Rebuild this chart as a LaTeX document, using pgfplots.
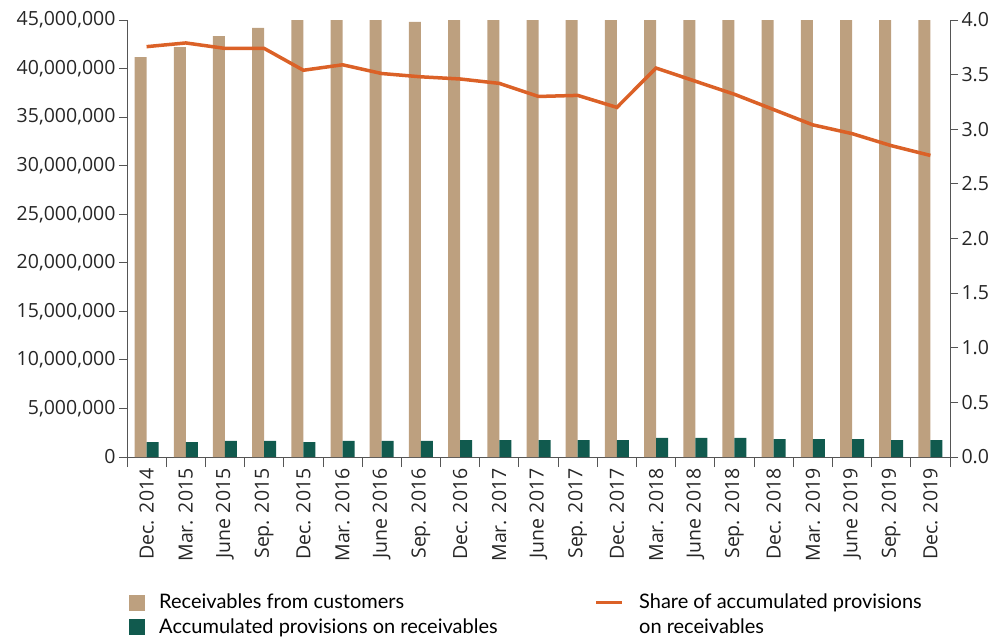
\documentclass[border=0pt]{standalone}
\usepackage{fontspec}
\setmainfont{Open Sans}
\newfontfamily\lato{Lato}
\usepackage{pgfplots}
\pgfplotsset{compat=1.18}
\definecolor{tanc}{HTML}{BDA07F}
\definecolor{greenc}{HTML}{115A4E}
\definecolor{orangec}{HTML}{DB6127}
\definecolor{axc}{HTML}{555555}
\begin{document}
\begin{tikzpicture}
\useasboundingbox (-127pt,-180pt) rectangle (871pt,457pt);
\pgfplotsset{
  common/.style={
    at={(0pt,0pt)}, anchor=south west, scale only axis,
    width=823pt, height=437pt, xmin=-0.5, xmax=20.5,
    tick align=outside, major tick length=8pt, minor tick length=10pt,
    axis line style={-, draw=axc, line width=0.9pt},
    every tick/.style={draw=axc, line width=0.9pt},
    tick label style={font=\fontsize{19.5}{22}\selectfont, text=black!85},
    /pgf/number format/assume math mode=true,
  }
}
\begin{axis}[common,
  axis x line*=bottom, axis y line*=left,
  ymin=0, ymax=45000000,
  ybar=0pt, bar width=12pt,
  xtick={0,...,20},
  xticklabels={Dec. 2014,Mar. 2015,June 2015,Sep. 2015,Dec. 2015,Mar. 2016,June 2016,Sep. 2016,Dec. 2016,Mar. 2017,June 2017,Sep. 2017,Dec. 2017,Mar. 2018,June 2018,Sep. 2018,Dec. 2018,Mar. 2019,June 2019,Sep. 2019,Dec. 2019},
  major x tick style={draw=none},
  minor xtick={-0.5,0.5,...,20.5},
  x tick label style={rotate=90, anchor=east, yshift=0pt},
  ytick={0,5000000,...,45000000},
  scaled y ticks=false,
  yticklabel style={/pgf/number format/.cd, fixed, 1000 sep={,}},
]
\addplot[fill=tanc, draw=none] coordinates {
(0,41190000) (1,42200000) (2,43350000) (3,44180000) (4,46000000)
(5,46000000) (6,46000000) (7,44800000) (8,46000000) (9,46000000)
(10,46000000) (11,46000000) (12,46000000) (13,46000000) (14,46000000)
(15,46000000) (16,46000000) (17,46000000) (18,46000000) (19,46000000) (20,46000000)};
\addplot[fill=greenc, draw=none] coordinates {
(0,1540000) (1,1540000) (2,1650000) (3,1650000) (4,1540000)
(5,1650000) (6,1650000) (7,1650000) (8,1750000) (9,1750000)
(10,1750000) (11,1750000) (12,1750000) (13,1960000) (14,1960000)
(15,1960000) (16,1850000) (17,1850000) (18,1850000) (19,1750000) (20,1750000)};
\end{axis}
\begin{axis}[common,
  axis x line=none, axis y line*=right,
  ymin=0, ymax=4,
  ytick={0,0.5,...,4},
  yticklabel style={/pgf/number format/.cd, fixed, fixed zerofill, precision=1},
  legend columns=2,
  legend cell align=left,
  legend style={draw=none, fill=none, at={(0.002,-0.309)}, anchor=north west,
    font=\lato\fontsize{20}{24}\selectfont, inner sep=0pt, row sep=4pt,
    /tikz/every even column/.append style={column sep=95pt},
    /tikz/every odd column/.append style={column sep=13pt}},
]
\addlegendimage{legend image code/.code={\fill[tanc] (0pt,-7.5pt) rectangle (15pt,7.5pt);}}
\addlegendentry{Receivables from customers}
\addplot[orangec, line width=3.5pt, legend image code/.code={\draw[orangec, line width=3.5pt] (0pt,0pt) -- (26pt,0pt);}] coordinates {
(0,3.756) (1,3.79) (2,3.74) (3,3.74) (4,3.54) (5,3.59) (6,3.51) (7,3.48)
(8,3.46) (9,3.42) (10,3.30) (11,3.31) (12,3.20) (13,3.56) (14,3.44)
(15,3.32) (16,3.18) (17,3.04) (18,2.96) (19,2.85) (20,2.76)};
\addlegendentry{Share of accumulated provisions}
\addlegendimage{legend image code/.code={\fill[greenc] (0pt,-7.5pt) rectangle (15pt,7.5pt);}}
\addlegendentry{Accumulated provisions on receivables}
\addlegendimage{empty legend}
\addlegendentry{on receivables}
\end{axis}
\end{tikzpicture}
\end{document}
